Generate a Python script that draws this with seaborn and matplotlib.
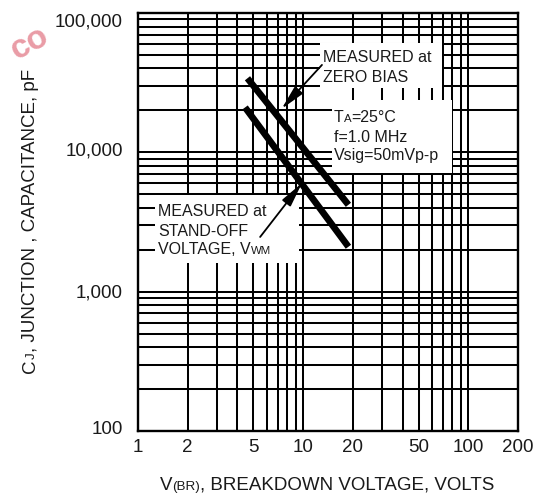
import numpy as np
import pandas as pd
import matplotlib
matplotlib.use("Agg")
import matplotlib.pyplot as plt
import matplotlib.transforms as mtransforms
import seaborn as sns
from matplotlib.patches import Rectangle
from matplotlib.ticker import LogLocator, NullFormatter, FixedLocator, FixedFormatter

# ---- data ----
zero_bias_v = [4.6, 18.8]
zero_bias_c = [34000, 4200]
standoff_v = [4.45, 18.8]
standoff_c = [21000, 2100]
series_names = ["MEASURED at ZERO BIAS", "MEASURED at STAND-OFF VOLTAGE"]

x_ticks = [1, 2, 5, 10, 20, 50, 100, 200]
x_tick_labels = ["1", "2", "5", "10", "20", "50", "100", "200"]
y_ticks = [100, 1000, 10000, 100000]
y_tick_labels = ["100", "1,000", "10,000", "100,000"]

df = pd.DataFrame({
    "v": zero_bias_v + standoff_v,
    "c": zero_bias_c + standoff_c,
    "series": [series_names[0]] * len(zero_bias_v) + [series_names[1]] * len(standoff_v),
})

sns.set_theme(style="white")
plt.rcParams["font.family"] = ["Liberation Sans", "DejaVu Sans"]

TXT = "#1a1a1a"
FS = 11.5          # annotation boxes
FS_SUB = 8.2
FS_AX = 13.5       # tick labels and axis titles
FS_AX_SUB = 9.6

fig = plt.figure(figsize=(5.56, 4.96), dpi=100)
W, H = 556, 496
ax = fig.add_axes([138 / W, 65 / H, 380 / W, 418 / H])

sns.lineplot(data=df, x="v", y="c", hue="series", palette=["black", "black"],
             linewidth=4.8, legend=False, estimator=None, ax=ax, zorder=3)
for ln in ax.lines:
    ln.set_solid_capstyle("butt")

ax.set_xscale("log")
ax.set_yscale("log")
ax.set_xlim(1, 200)
ax.set_ylim(100, 100000)

ax.xaxis.set_major_locator(FixedLocator(x_ticks))
ax.xaxis.set_major_formatter(FixedFormatter(x_tick_labels))
ax.yaxis.set_major_locator(FixedLocator(y_ticks))
ax.yaxis.set_major_formatter(FixedFormatter(y_tick_labels))
ax.xaxis.set_minor_locator(LogLocator(base=10, subs=np.arange(2, 10), numticks=100))
ax.yaxis.set_minor_locator(LogLocator(base=10, subs=np.arange(2, 10), numticks=100))
ax.xaxis.set_minor_formatter(NullFormatter())
ax.yaxis.set_minor_formatter(NullFormatter())

ax.set_axisbelow(True)
ax.grid(which="both", axis="both", color="black", linewidth=1.45)
ax.tick_params(which="both", length=0)
ax.tick_params(axis="x", pad=5.5, labelsize=FS_AX, labelcolor=TXT)
ax.tick_params(axis="y", pad=11, labelsize=FS_AX, labelcolor=TXT)
for s in ax.spines.values():
    s.set_visible(True)
    s.set_color("black")
    s.set_linewidth(1.7)
ax.set_xlabel("")
ax.set_ylabel("")

# small per-label vertical offsets as in the reference (pixels, + is up)
y_label_shift = {"100": 4, "1,000": 1, "10,000": 3, "100,000": -7}
fig.canvas.draw()
for lab in ax.get_yticklabels():
    dy = y_label_shift.get(lab.get_text(), 0)
    if dy:
        lab.set_transform(lab.get_transform() +
                          mtransforms.ScaledTranslation(0, dy / 100, fig.dpi_scale_trans))

# white label boxes (axes fraction)
def px2ax(px, py):
    return (px - 138) / 380, (431 - py) / 418

for (x0, y0, x1, y1) in [(320, 43, 442, 88), (332, 100, 452, 173), (155, 195, 299, 263)]:
    ax0, ay1 = px2ax(x0, y0)
    ax1, ay0 = px2ax(x1, y1)
    ax.add_patch(Rectangle((ax0, ay0), ax1 - ax0, ay1 - ay0, transform=ax.transAxes,
                           facecolor="white", edgecolor="none", zorder=1))

renderer = fig.canvas.get_renderer()

def rich_text(x, y, pieces, rotation=0, center=False, zorder=5):
    """pieces: list of (string, fontsize); x, y in pixels from top-left, y = baseline."""
    texts = []
    for s, fs in pieces:
        t = fig.text(0, 0, s, fontsize=fs, color=TXT, ha="left", va="baseline",
                     rotation=rotation, rotation_mode="anchor", zorder=zorder)
        texts.append(t)
    sizes = []
    for t in texts:
        bb = t.get_window_extent(renderer)
        sizes.append(bb.width if rotation == 0 else bb.height)
    pos = -sum(sizes) / 2 if center else 0
    for t, w in zip(texts, sizes):
        if rotation == 0:
            t.set_position(((x + pos) / W, 1 - y / H))
        else:
            t.set_position((x / W, 1 - (y - pos) / H))
        pos += w

rich_text(322.7, 62, [("MEASURED at", FS)])
rich_text(322.7, 82, [("ZERO BIAS", FS)])
rich_text(334, 122, [("T", FS), ("A", FS_SUB), ("=25°C", FS)])
rich_text(334, 142, [("f=1.0 MHz", FS)])
rich_text(334, 160, [("Vsig=50mVp-p", FS)])
rich_text(158.3, 216, [("MEASURED at", FS)])
rich_text(158.3, 236, [("STAND-OFF", FS)])
rich_text(158.3, 254, [("VOLTAGE, V", FS), ("WM", FS_SUB)])

arrow_kw = dict(arrowstyle="-|>,head_length=1.5,head_width=0.32", color="black",
                lw=1.3, mutation_scale=10, shrinkA=0, shrinkB=0)
ax.annotate("", xy=(7.4, 20500), xytext=(13.0, 42400), arrowprops=arrow_kw, zorder=4)
ax.annotate("", xy=(9.85, 6030), xytext=(5.49, 2470), arrowprops=arrow_kw, zorder=4)

rich_text(327, 490, [("V", FS_AX), ("(BR)", FS_AX_SUB), (", BREAKDOWN VOLTAGE, VOLTS", FS_AX)],
          center=True)
rich_text(35, 221, [("C", FS_AX), ("J", FS_AX_SUB), (", JUNCTION , CAPACITANCE, pF", FS_AX)],
          rotation=90, center=True)

# watermark fragment
fig.text(17 / W, 1 - 60 / H, "co", color="#e68a96", alpha=0.85, fontsize=24,
         fontweight="bold", rotation=28, rotation_mode="anchor", ha="left", va="baseline")

fig.savefig("out.png", dpi=100)
